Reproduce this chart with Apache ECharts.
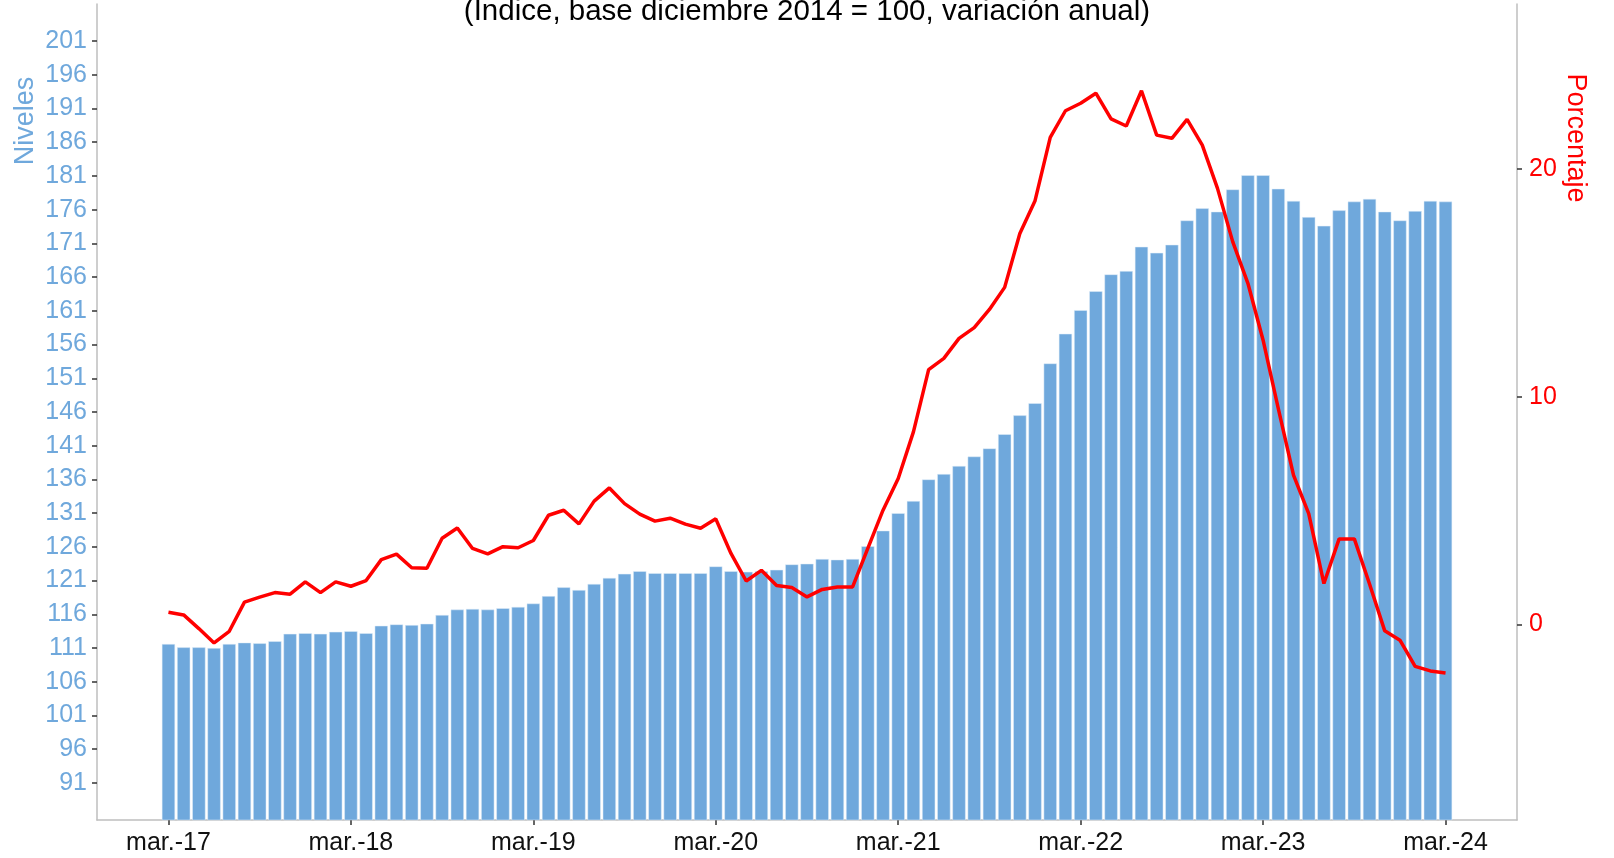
<!DOCTYPE html>
<html>
<head>
<meta charset="utf-8">
<script src="https://cdn.jsdelivr.net/npm/echarts@6/dist/echarts.min.js"></script>
<style>
html,body{margin:0;padding:0;background:#fff;}
#chart{width:1614px;height:858px;}
</style>
</head>
<body>
<div id="chart"></div>
<script>
const categories = [
 'mar.-17','abr.-17','may.-17','jun.-17','jul.-17','ago.-17','sept.-17','oct.-17','nov.-17','dic.-17','ene.-18','feb.-18',
 'mar.-18','abr.-18','may.-18','jun.-18','jul.-18','ago.-18','sept.-18','oct.-18','nov.-18','dic.-18','ene.-19','feb.-19',
 'mar.-19','abr.-19','may.-19','jun.-19','jul.-19','ago.-19','sept.-19','oct.-19','nov.-19','dic.-19','ene.-20','feb.-20',
 'mar.-20','abr.-20','may.-20','jun.-20','jul.-20','ago.-20','sept.-20','oct.-20','nov.-20','dic.-20','ene.-21','feb.-21',
 'mar.-21','abr.-21','may.-21','jun.-21','jul.-21','ago.-21','sept.-21','oct.-21','nov.-21','dic.-21','ene.-22','feb.-22',
 'mar.-22','abr.-22','may.-22','jun.-22','jul.-22','ago.-22','sept.-22','oct.-22','nov.-22','dic.-22','ene.-23','feb.-23',
 'mar.-23','abr.-23','may.-23','jun.-23','jul.-23','ago.-23','sept.-23','oct.-23','nov.-23','dic.-23','ene.-24','feb.-24',
 'mar.-24'
];
const niveles = [
 111.6,111.1,111.1,111.0,111.6,111.8,111.7,112.0,113.1,113.2,113.1,113.4,
 113.5,113.2,114.3,114.5,114.4,114.6,115.9,116.7,116.8,116.7,116.9,117.1,
 117.6,118.7,120.0,119.6,120.5,121.4,122.0,122.4,122.1,122.1,122.1,122.1,
 123.1,122.4,122.3,122.4,122.6,123.4,123.5,124.2,124.1,124.2,126.1,128.4,
 131.0,132.8,136.0,136.8,138.0,139.4,140.6,142.7,145.5,147.3,153.2,157.6,
 161.1,163.9,166.4,166.9,170.5,169.6,170.8,174.4,176.2,175.7,179.0,181.1,
 181.1,179.1,177.3,174.9,173.6,175.9,177.2,177.6,175.7,174.4,175.8,177.3,
 177.2
];
const variacion = [
 0.53,0.41,-0.19,-0.82,-0.31,0.97,1.19,1.39,1.32,1.86,1.39,1.86,
 1.67,1.92,2.84,3.08,2.48,2.46,3.78,4.23,3.33,3.09,3.41,3.36,
 3.68,4.79,5.01,4.41,5.41,5.99,5.30,4.84,4.53,4.66,4.40,4.22,
 4.63,3.11,1.90,2.37,1.70,1.61,1.20,1.53,1.64,1.64,3.33,5.01,
 6.40,8.45,11.19,11.68,12.56,13.03,13.83,14.80,17.17,18.61,21.39,22.56,
 22.89,23.33,22.20,21.89,23.44,21.49,21.35,22.18,21.05,19.15,16.81,14.98,
 12.48,9.47,6.55,4.86,1.79,3.75,3.75,1.77,-0.29,-0.70,-1.85,-2.05,
 -2.14
];
const xTickLabels = ['mar.-17','mar.-18','mar.-19','mar.-20','mar.-21','mar.-22','mar.-23','mar.-24'];
const leftTicks = [91,96,101,106,111,116,121,126,131,136,141,146,151,156,161,166,171,176,181,186,191,196,201];
const rightTicks = [0,10,20];
const titleText = '(Indice, base diciembre 2014 = 100, variación anual)';
const leftName = 'Niveles';
const rightName = 'Porcentaje';

const FONT = '"Liberation Sans", Arial, Helvetica, sans-serif';
const BLUE = '#6FA8DC';
const RED = '#FF0000';
const xTickPos = xTickLabels.map(l => categories.indexOf(l));

const chart = echarts.init(document.getElementById('chart'), null, {renderer: 'canvas'});
chart.setOption({
  animation: false,
  backgroundColor: '#ffffff',
  grid: {left: 97, right: 97, top: 4, bottom: 38, containLabel: false},
  xAxis: {
    type: 'value', min: -4.7, max: 88.7,
    axisLine: {show: true, onZero: false, lineStyle: {color: '#BEBEBE', width: 1.5}},
    axisTick: {show: true, length: 5, customValues: xTickPos, lineStyle: {color: '#333333', width: 1.5}},
    axisLabel: {show: true, customValues: xTickPos, margin: 11, color: '#111111', fontSize: 25, fontFamily: FONT,
      formatter: v => categories[Math.round(v)] || ''},
    splitLine: {show: false}
  },
  yAxis: [
    {
      type: 'value', position: 'left', min: 85.5, max: 206.5,
      axisLine: {show: true, onZero: false, lineStyle: {color: '#BEBEBE', width: 1.5}},
      axisTick: {show: true, length: 5, customValues: leftTicks, lineStyle: {color: '#333333', width: 1.5}},
      axisLabel: {show: true, customValues: leftTicks, margin: 10, color: BLUE, fontSize: 25, fontFamily: FONT},
      splitLine: {show: false}
    },
    {
      type: 'value', position: 'right', min: -8.6, max: 27.25,
      axisLine: {show: true, onZero: false, lineStyle: {color: '#BEBEBE', width: 1.5}},
      axisTick: {show: true, length: 5, customValues: rightTicks, lineStyle: {color: '#333333', width: 1.5}},
      axisLabel: {show: true, customValues: rightTicks, margin: 12, color: RED, fontSize: 25, fontFamily: FONT},
      splitLine: {show: false}
    }
  ],
  series: [
    {
      type: 'bar', name: leftName, yAxisIndex: 0, barWidth: 13.2,
      itemStyle: {color: BLUE, borderColor: '#E3EEF8', borderWidth: 0.5},
      data: niveles.map((v, i) => [i, v])
    },
    {
      type: 'line', name: rightName, yAxisIndex: 1, showSymbol: false, symbol: 'none',
      lineStyle: {color: RED, width: 3.5}, z: 5,
      data: variacion.map((v, i) => [i, v])
    }
  ],
  graphic: [
    {type: 'text', x: 807, y: 12, z: 10,
      style: {text: titleText, fill: '#000000', font: '29.5px ' + FONT, textAlign: 'center', textVerticalAlign: 'middle'}},
    {type: 'text', x: 26, y: 121, rotation: Math.PI / 2, z: 10,
      style: {text: leftName, fill: BLUE, font: '27px ' + FONT, textAlign: 'center', textVerticalAlign: 'middle'}},
    {type: 'text', x: 1575, y: 138, rotation: -Math.PI / 2, z: 10,
      style: {text: rightName, fill: RED, font: '27px ' + FONT, textAlign: 'center', textVerticalAlign: 'middle'}}
  ]
});
</script>
</body>
</html>
